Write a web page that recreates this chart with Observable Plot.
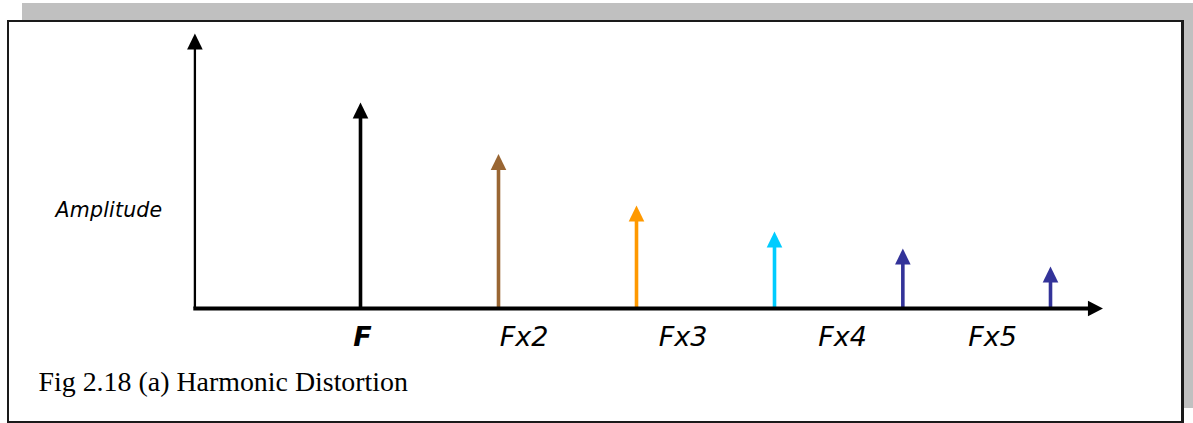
<!DOCTYPE html>
<html>
<head>
<meta charset="utf-8">
<script src="https://cdn.jsdelivr.net/npm/d3@7"></script>
<script src="https://cdn.jsdelivr.net/npm/@observablehq/plot@0.6"></script>
<style>
  html, body { margin: 0; padding: 0; background: #ffffff; }
  #wrap { position: relative; width: 1193px; height: 423px; overflow: hidden; }
  #shadow { position: absolute; left: 22px; top: 3px; width: 1171px; height: 405px; background: #c0c0c0; }
  #box { position: absolute; left: 7px; top: 20px; width: 1177px; height: 403px; box-sizing: border-box;
         border: 2px solid #1a1a1a; border-right-width: 3px; background: #ffffff; }
  #chart { position: absolute; left: 0; top: 0; }
</style>
</head>
<body>
<div id="wrap">
  <div id="shadow"></div>
  <div id="box"></div>
  <div id="chart"></div>
</div>
<script>
// ---- data ----
// spike positions in multiples of the fundamental frequency
const spikePositions = [1, 2, 3, 4, 4.93, 6];
// spike amplitudes (relative, axis top = 100)
const spikeAmplitudes = [74.9, 56.2, 37.5, 28, 21.8, 15.3];
const spikeColors = ["#000000", "#996633", "#ff9900", "#00ccff", "#333399", "#333399"];
// frequency labels below the axis
const freqLabels = ["F", "Fx2", "Fx3", "Fx4", "Fx5"];
const freqLabelPositions = [1.015, 2.185, 3.337, 4.493, 5.58];
const labelLevel = -13.8;
// axis extents (data units)
const axisOriginX = -0.2;
const axisEndX = 6.38;
const axisTopY = 100;
const yTitle = "Amplitude";
const yTitlePos = {x: -1.21, y: 33.1};
const caption = "Fig 2.18 (a) Harmonic Distortion";

const spikes = spikePositions.map((p, i) => ({pos: p, amp: spikeAmplitudes[i], color: spikeColors[i]}));
const labels = freqLabels.map((t, i) => ({text: t, pos: freqLabelPositions[i]}));

// arrowhead shapes (tip at the anchor point)
const upHead = {draw(ctx) { ctx.moveTo(0, 0); ctx.lineTo(7.8, 16); ctx.lineTo(-7.8, 16); ctx.closePath(); }};
const rightHead = {draw(ctx) { ctx.moveTo(0, 0); ctx.lineTo(-15, -7.8); ctx.lineTo(-15, 7.8); ctx.closePath(); }};

const chart = Plot.plot({
  width: 1193,
  height: 423,
  margin: 0,
  style: {background: "transparent", overflow: "visible"},
  x: {type: "linear", domain: [1, 6], range: [360, 1050], axis: null},
  y: {type: "linear", domain: [0, 100], range: [308, 33], axis: null},
  color: {type: "identity"},
  marks: [
    // y axis with arrow
    Plot.ruleX([axisOriginX], {y1: axisTopY, y2: 0, stroke: "#000", strokeWidth: 2.3, insetTop: 10}),
    Plot.dot([{x: axisOriginX, y: axisTopY}], {x: "x", y: "y", symbol: upHead, fill: "#000", stroke: "none"}),
    // spikes
    Plot.ruleX(spikes, {x: "pos", y1: "amp", y2: 0, stroke: "color", strokeWidth: 3.6, insetTop: 10}),
    Plot.dot(spikes, {x: "pos", y: "amp", symbol: upHead, fill: "color", stroke: "none"}),
    // x axis with arrow
    Plot.ruleY([0], {x1: axisOriginX - 0.008, x2: axisEndX, stroke: "#000", strokeWidth: 4, insetRight: 10}),
    Plot.dot([{x: axisEndX, y: 0}], {x: "x", y: "y", symbol: rightHead, fill: "#000", stroke: "none"}),
    // frequency labels
    Plot.text(labels.filter(d => d.text === "F"), {x: "pos", y: () => labelLevel, text: "text",
      fontFamily: "DejaVu Sans", fontSize: 27, fontStyle: "italic", fontWeight: "bold",
      fill: "#000", lineAnchor: "bottom", textAnchor: "middle"}),
    Plot.text(labels.filter(d => d.text !== "F"), {x: "pos", y: () => labelLevel, text: "text",
      fontFamily: "DejaVu Sans", fontSize: 27, fontStyle: "italic", fontWeight: "normal",
      fill: "#000", lineAnchor: "bottom", textAnchor: "middle"}),
    // y axis title
    Plot.text([yTitle], {x: () => yTitlePos.x, y: () => yTitlePos.y, text: d => d,
      fontFamily: "DejaVu Sans", fontSize: 20.5, fontStyle: "italic", fill: "#000",
      lineAnchor: "bottom", textAnchor: "start"}),
    // caption
    Plot.text([caption], {frameAnchor: "top-left", dx: 38, dy: 390, text: d => d,
      fontFamily: "Liberation Serif", fontSize: 27.9, fill: "#000",
      lineAnchor: "bottom", textAnchor: "start"})
  ]
});

chart.querySelectorAll("text").forEach(t => {
  if (t.textContent === yTitle) t.setAttribute("letter-spacing", "0.2");
});

document.getElementById("chart").appendChild(chart);
</script>
</body>
</html>
